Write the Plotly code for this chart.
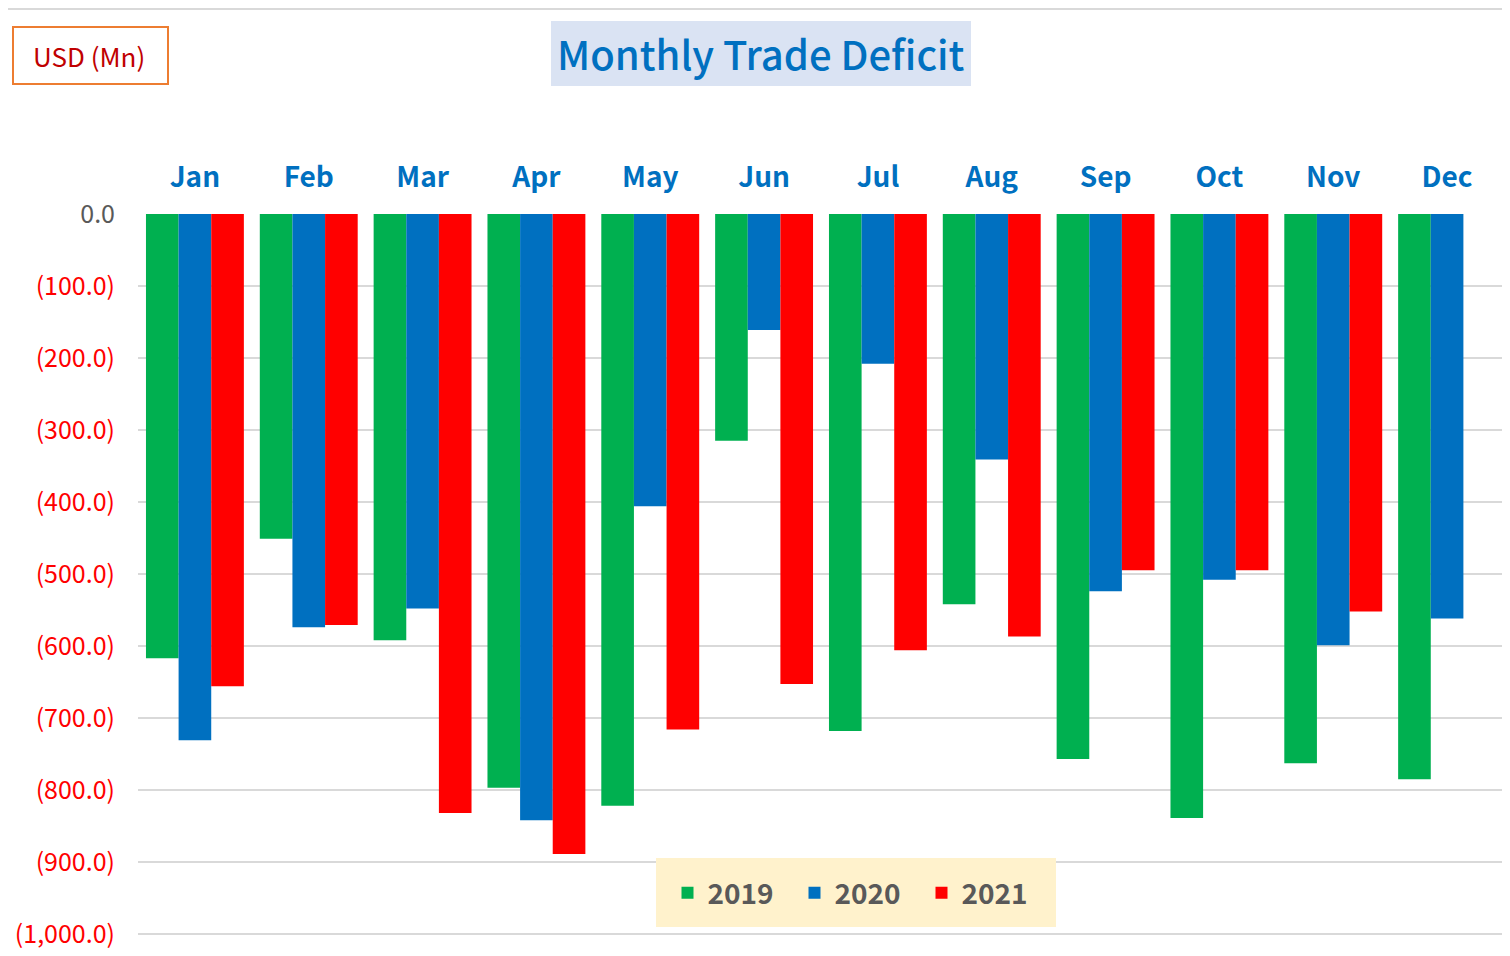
import plotly.graph_objects as go

months = ["Jan", "Feb", "Mar", "Apr", "May", "Jun", "Jul", "Aug", "Sep", "Oct", "Nov", "Dec"]
v2019 = [-617, -451, -592, -797, -822, -315, -718, -542, -757, -839, -763, -785]
v2020 = [-731, -574, -548, -842, -406, -161, -208, -341, -524, -508, -599, -562]
v2021 = [-656, -571, -832, -889, -716, -653, -606, -587, -495, -495, -552, None]
tick_vals = [0, -100, -200, -300, -400, -500, -600, -700, -800, -900, -1000]
tick_text = ["0.0", "(100.0)", "(200.0)", "(300.0)", "(400.0)", "(500.0)", "(600.0)",
             "(700.0)", "(800.0)", "(900.0)", "(1,000.0)"]

OFF = 8  # page body margin
W, H = 1510 - OFF, 956 - OFF
L, T = 138 - OFF, 214 - OFF
R = W - (1504 - OFF)
B = H - (935 - OFF)
PW, PH = W - L - R, H - T - B


def px(x):
    return (x - OFF - L) / PW


def py(y):
    return (H - B - (y - OFF)) / PH


FONT = "Noto Sans CJK JP"

fig = go.Figure()
for name, vals, col in [("2019", v2019, "#00B050"), ("2020", v2020, "#0070C0"), ("2021", v2021, "#FF0000")]:
    fig.add_trace(go.Bar(x=months, y=vals, name=name, marker=dict(color=col, line=dict(width=0))))

ticks_html = [t if t == "0.0" else f"<span style='color:#FF0000'>{t}</span>" for t in tick_text]

fig.update_layout(
    width=W, height=H,
    margin=dict(l=L, r=R, t=T, b=B, pad=0),
    paper_bgcolor="white", plot_bgcolor="white",
    barmode="group", bargap=0.14, bargroupgap=0,
    font=dict(family=FONT),
    xaxis=dict(side="top", showgrid=False, showline=False, ticks="",
               tickfont=dict(size=28, color="#0070C0", family=FONT, weight="bold"),
               ticklabelstandoff=20),
    yaxis=dict(range=[-1001.5, 0], tickvals=tick_vals, ticktext=ticks_html,
               showgrid=True, gridcolor="#D9D9D9", gridwidth=2, zeroline=False,
               tickfont=dict(size=25, color="#595959", family=FONT),
               ticklabelstandoff=22),
    showlegend=True,
    legend=dict(orientation="h", x=px(858), y=py(893), xanchor="center", yanchor="middle",
                bgcolor="rgba(0,0,0,0)", font=dict(size=28, color="#595959", family=FONT, weight="bold"),
                itemwidth=30, entrywidth=82, entrywidthmode="pixels", traceorder="normal"),
    shapes=[
        dict(type="rect", xref="paper", yref="paper", x0=px(656), x1=px(1056), y0=py(927), y1=py(858),
             fillcolor="#FFF2CC", line=dict(width=0), layer="above"),
        dict(type="rect", xref="paper", yref="paper", x0=px(551), x1=px(971), y0=py(86), y1=py(21),
             fillcolor="#DAE3F3", line=dict(width=0), layer="above"),
        dict(type="rect", xref="paper", yref="paper", x0=px(13), x1=px(168), y0=py(84), y1=py(27),
             fillcolor="white", line=dict(width=2, color="#ED7D31"), layer="above"),
        dict(type="line", xref="paper", yref="paper", x0=px(8), x1=px(1510), y0=py(9), y1=py(9),
             line=dict(width=2, color="#D9D9D9"), layer="above"),
    ],
    annotations=[
        dict(text="Monthly Trade Deficit", xref="paper", yref="paper", x=px(761), y=py(53),
             xanchor="center", yanchor="middle", showarrow=False,
             font=dict(size=40, color="#0070C0", family=FONT, weight=500)),
        dict(text="USD (Mn)", xref="paper", yref="paper", x=px(89), y=py(55),
             xanchor="center", yanchor="middle", showarrow=False,
             font=dict(size=26, color="#C00000", family=FONT)),
    ],
)

fig.write_html("out.html")
